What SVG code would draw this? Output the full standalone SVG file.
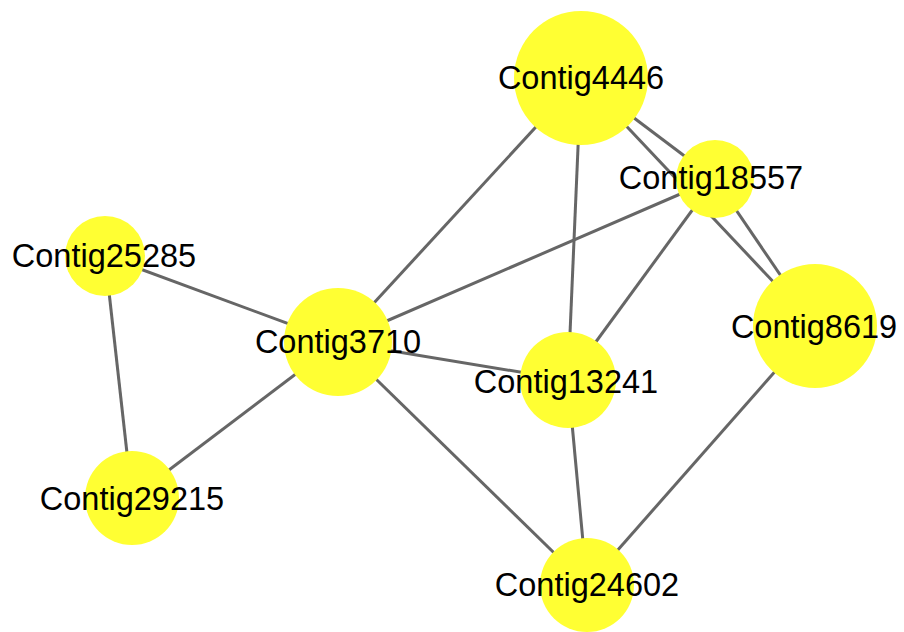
<svg xmlns="http://www.w3.org/2000/svg" width="904" height="632" viewBox="0 0 904 632">
  <style>
    .edge { stroke: #666666; stroke-width: 3; fill: none; }
    .node circle { fill: #ffff33; }
    .node text { font-family: "Liberation Sans", Arial, sans-serif; font-size: 32.5px; fill: #000000; text-anchor: middle; }
  </style>
  <rect width="904" height="632" fill="#ffffff"/>
  <g id="edges">
    <line class="edge" x1="581" y1="78" x2="338" y2="342"/>
    <line class="edge" x1="581" y1="78" x2="568" y2="380"/>
    <line class="edge" x1="581" y1="78" x2="715" y2="179"/>
    <line class="edge" x1="581" y1="78" x2="815" y2="326"/>
    <line class="edge" x1="715" y1="179" x2="815" y2="326"/>
    <line class="edge" x1="715" y1="179" x2="338" y2="342"/>
    <line class="edge" x1="715" y1="179" x2="568" y2="380"/>
    <line class="edge" x1="105" y1="256" x2="338" y2="342"/>
    <line class="edge" x1="105" y1="256" x2="132" y2="498"/>
    <line class="edge" x1="338" y1="342" x2="132" y2="498"/>
    <line class="edge" x1="338" y1="342" x2="568" y2="380"/>
    <line class="edge" x1="338" y1="342" x2="587" y2="585"/>
    <line class="edge" x1="568" y1="380" x2="587" y2="585"/>
    <line class="edge" x1="815" y1="326" x2="587" y2="585"/>
  </g>
  <g id="Contig4446" class="node"><circle cx="581" cy="78" r="67"/><text x="581" y="89">Contig4446</text></g>
  <g id="Contig18557" class="node"><circle cx="715" cy="179" r="39"/><text x="711" y="189">Contig18557</text></g>
  <g id="Contig8619" class="node"><circle cx="815" cy="326" r="62"/><text x="814" y="338">Contig8619</text></g>
  <g id="Contig25285" class="node"><circle cx="105" cy="256" r="40"/><text x="104" y="267">Contig25285</text></g>
  <g id="Contig3710" class="node"><circle cx="338" cy="342" r="54"/><text x="338" y="353">Contig3710</text></g>
  <g id="Contig13241" class="node"><circle cx="568" cy="380" r="48"/><text x="566" y="393">Contig13241</text></g>
  <g id="Contig29215" class="node"><circle cx="132" cy="498" r="47"/><text x="132" y="510">Contig29215</text></g>
  <g id="Contig24602" class="node"><circle cx="587" cy="585" r="47"/><text x="587" y="596">Contig24602</text></g>
</svg>
